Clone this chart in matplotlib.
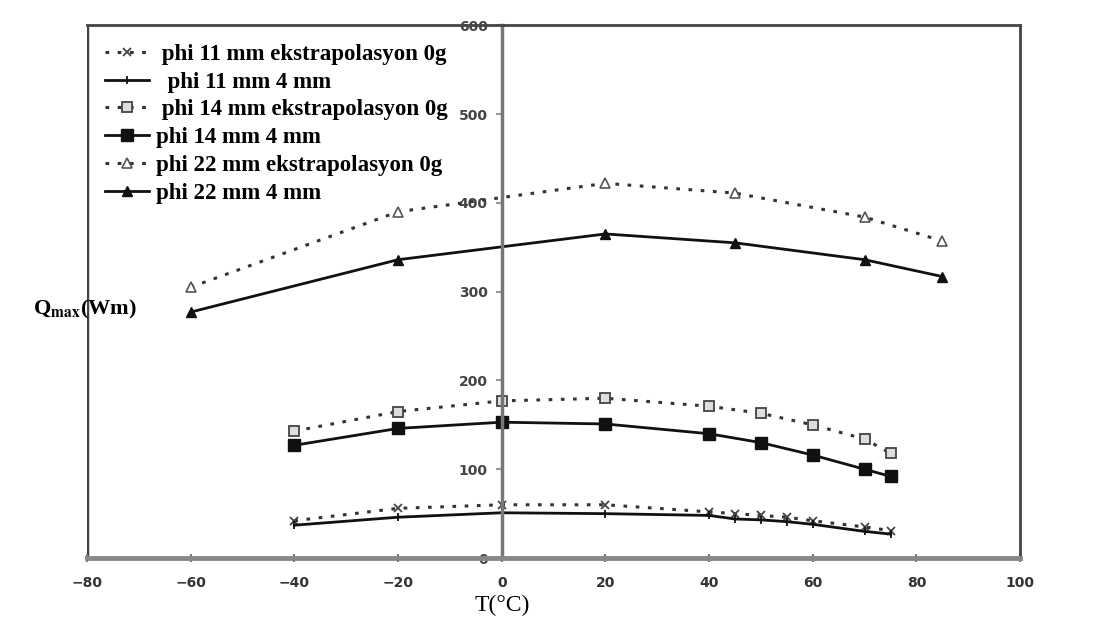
import matplotlib
matplotlib.use('Agg')
from matplotlib import pyplot as plt
import numpy as np

plt.rcParams['mathtext.fontset'] = 'stix'

# data
t_11 = [-40, -20, 0, 20, 40, 45, 50, 55, 60, 70, 75]
q_11_ext = [42, 56, 60, 60, 52, 50, 48, 46, 42, 35, 31]
q_11_4mm = [37, 46, 51, 50, 48, 44, 43, 41, 38, 30, 27]

t_14 = [-40, -20, 0, 20, 40, 50, 60, 70, 75]
q_14_ext = [143, 165, 177, 180, 171, 163, 150, 134, 118]
q_14_4mm = [127, 146, 153, 151, 140, 130, 116, 100, 92]

t_22 = [-60, -20, 20, 45, 70, 85]
q_22_ext = [305, 390, 422, 411, 384, 357]
q_22_4mm = [277, 336, 365, 355, 336, 317]

labels = [' phi 11 mm ekstrapolasyon 0g', '  phi 11 mm 4 mm',
          ' phi 14 mm ekstrapolasyon 0g', 'phi 14 mm 4 mm',
          'phi 22 mm ekstrapolasyon 0g', 'phi 22 mm 4 mm']

x_ticks = [-80, -60, -40, -20, 0, 20, 40, 60, 80, 100]
y_ticks = [0, 100, 200, 300, 400, 500, 600]

fig = plt.figure(figsize=(10.94, 6.32), dpi=100)
ax = fig.add_axes([0.0795, 0.117, 0.853, 0.843])

ink = '#111111'
dot = dict(ls=(0, (1.2, 2.8)), lw=2.2, color='#333333')
sol = dict(ls='-', lw=2.0, color=ink)

ax.plot(t_11, q_11_ext, marker='x', ms=6, mew=1.3, mec='#444444', label=labels[0], **dot)
ax.plot(t_11, q_11_4mm, marker='|', ms=6, mew=1.3, mec=ink, label=labels[1], **sol)
ax.plot(t_14, q_14_ext, marker='s', ms=7, mfc='#dddddd', mec='#444444', mew=1.3, label=labels[2], **dot)
ax.plot(t_14, q_14_4mm, marker='s', ms=8, mfc=ink, mec=ink, label=labels[3], **sol)
ax.plot(t_22, q_22_ext, marker='^', ms=7, mfc='white', mec='#555555', mew=1.2, label=labels[4], **dot)
ax.plot(t_22, q_22_4mm, marker='^', ms=7, mfc=ink, mec=ink, label=labels[5], **sol)

ax.set_xlim(-80, 100)
ax.set_ylim(0, 600)

# frame: y axis sits at T = 0, box drawn around
ax.spines['left'].set_position(('data', 0))
ax.spines['left'].set_color('#777777')
ax.spines['left'].set_linewidth(2.5)
ax.spines['bottom'].set_color('#888888')
ax.spines['bottom'].set_linewidth(3.5)
for s in ['top', 'right']:
    ax.spines[s].set_color('#444444')
    ax.spines[s].set_linewidth(2.0)
ax.axvline(-80, color='#444444', lw=2.5, zorder=0)

ax.set_xticks(x_ticks)
ax.set_yticks(y_ticks)
ax.tick_params(axis='x', direction='inout', length=6, width=1.5, color='#777777',
               labelsize=10, labelcolor='#333333', pad=10)
ax.tick_params(axis='y', direction='out', length=4, width=1.5, color='#999999',
               labelsize=10, labelcolor='#444444', pad=6)
for lab in ax.get_xticklabels() + ax.get_yticklabels():
    lab.set_fontweight('bold')

leg = ax.legend(loc='upper left', frameon=False, handlelength=1.9, handletextpad=0.3,
                labelspacing=0.3, borderaxespad=0.4,
                prop={'family': 'Liberation Serif', 'weight': 'bold', 'size': 16.5})

fig.text(0.459, 0.025, 'T(°C)', fontfamily='Liberation Serif', fontsize=17,
         ha='center', va='bottom')
fig.text(0.03, 0.51, r'Q$_{\mathbf{max}}$(Wm)', fontfamily='Liberation Serif',
         fontweight='bold', fontsize=16, ha='left', va='center')

fig.savefig('out.png', dpi=100)
